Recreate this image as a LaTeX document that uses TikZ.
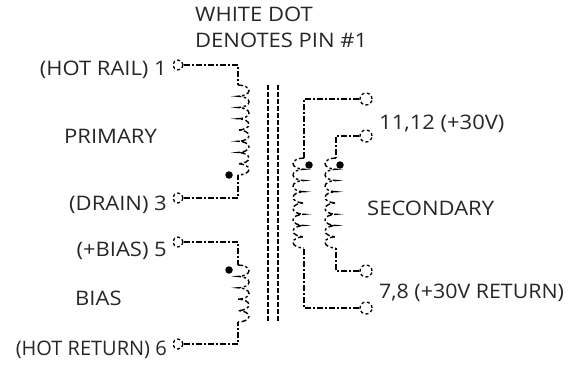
\documentclass[tikz,border=0pt]{standalone}
\usepackage{fontspec}
\setmainfont[FakeStretch=1.1]{Open Sans}
\usetikzlibrary{positioning}
\usetikzlibrary{calc}
\tikzset{
	pin/.style={circle, draw, dash pattern=on 3pt off 2.5pt, line width=1.3pt, minimum size=10pt, inner sep=0pt},
	pinb/.style={pin, minimum size=12pt},
	wire/.style={line width=1.3pt, dash pattern=on 6pt off 2pt on 2pt off 2pt},
	core/.style={line width=1.6pt, dash pattern=on 5pt off 2pt},
	winding/.style={line width=1.4pt, dash pattern=on 5pt off 2.5pt on 2.5pt off 2.5pt},
	phase/.style={circle, fill, inner sep=0pt, minimum size=7.5pt},
	label/.style={font=\fontsize{20pt}{22pt}\selectfont, inner sep=0pt, text=black!85}
}
\begin{document}
\begin{tikzpicture}[x=1pt, y=-1pt]
	\useasboundingbox (0,0) rectangle (577,366);
	% pins on the left
	\node[pin] (P1) at (178,65) {};
	\node[pin] (P3) at (178,198) {};
	\node[pin] (P5) at (178,242) {};
	\node[pin] (P6) at (178,344) {};
	% pins on the right
	\node[pinb] (P11) at (366,99) {};
	\node[pinb] (P12) at (366,136) {};
	\node[pinb] (P7) at (366,271) {};
	\node[pinb] (P8) at (366,308) {};
	% winding ends
	\coordinate (PriT) at (238,85);
	\coordinate (PriB) at (238,175);
	\coordinate (BiasT) at (238,265);
	\coordinate (BiasB) at (238,322);
	\coordinate (SecAT) at (304,158);
	\coordinate (SecAB) at (304,248);
	\coordinate (SecBT) at (336,158);
	\coordinate (SecBB) at (336,248);
	% windings
	\draw[winding] (PriT) \foreach \i in {1,...,8} {arc[start angle=90, end angle=-90, x radius=11pt, y radius=5.625pt]};
	\draw[winding] (BiasT) \foreach \i in {1,...,5} {arc[start angle=90, end angle=-90, x radius=11pt, y radius=5.7pt]};
	\draw[winding] (SecAT) \foreach \i in {1,...,8} {arc[start angle=90, end angle=270, x radius=11pt, y radius=5.625pt]};
	\draw[winding] (SecBT) \foreach \i in {1,...,8} {arc[start angle=90, end angle=270, x radius=11pt, y radius=5.625pt]};
	% wires
	\draw[wire] (P1) -- (P1 -| PriT) -- (PriT);
	\draw[wire] (P3) -- (P3 -| PriB) -- (PriB);
	\draw[wire] (P5) -- (P5 -| BiasT) -- (BiasT);
	\draw[wire] (P6) -- (P6 -| BiasB) -- (BiasB);
	\draw[wire] (P11) -- (P11 -| SecAT) -- (SecAT);
	\draw[wire] (P12) -- (P12 -| SecBT) -- (SecBT);
	\draw[wire] (P7) -- (P7 -| SecBB) -- (SecBB);
	\draw[wire] (P8) -- (P8 -| SecAB) -- (SecAB);
	% core
	\coordinate (CoreAT) at (268,85);
	\coordinate (CoreAB) at (268,322);
	\coordinate (CoreBT) at (278,85);
	\coordinate (CoreBB) at (278,322);
	\draw[core] (CoreAT) -- (CoreAB);
	\draw[core] (CoreBT) -- (CoreBB);
	% phase dots
	\node[phase] (DotPri) at (229,175) {};
	\node[phase] (DotBias) at (229,270) {};
	\node[phase] (DotSecA) at (309,165) {};
	\node[phase] (DotSecB) at (340,165) {};
	% labels
	\node[label, anchor=base west] (Note1) at (195,22) {WHITE DOT};
	\node[label, anchor=base west] (Note2) at (195,48) {DENOTES PIN \#1};
	\node[label, anchor=base east] (L1) at (167,76) {(HOT RAIL) 1};
	\node[label, anchor=base east] (L3) at (167,210) {(DRAIN) 3};
	\node[label, anchor=base east] (L5) at (167,256) {(+BIAS) 5};
	\node[label, anchor=base east] (L6) at (167,355) {\addfontfeature{FakeStretch=1.0}(HOT RETURN) 6};
	\node[label, anchor=base west] (Primary) at (64,143) {PRIMARY};
	\node[label, anchor=base west] (Bias) at (75,305) {BIAS};
	\node[label, anchor=base west] (Secondary) at (367,215) {SECONDARY};
	\node[label, anchor=base west] (L11) at (379,130) {11,12 (+30V)};
	\node[label, anchor=base west] (L7) at (379,298) {\addfontfeature{FakeStretch=1.07}7,8 (+30V RETURN)};
\end{tikzpicture}
\end{document}
